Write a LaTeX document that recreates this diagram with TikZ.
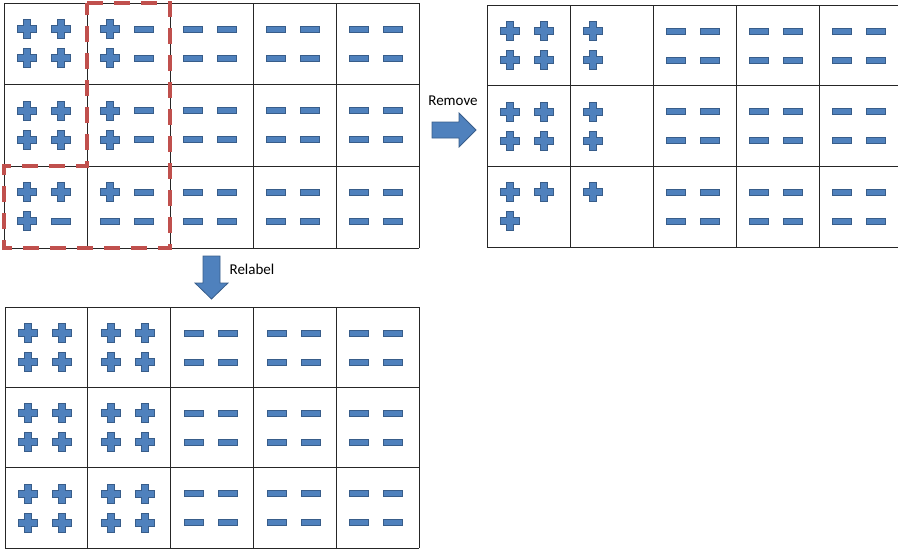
\documentclass[tikz,border=0pt]{standalone}
\usepackage{fontspec}
\setmainfont{Carlito}
\definecolor{symblue}{HTML}{4F81BD}
\definecolor{symedge}{HTML}{385D8A}
\definecolor{cutred}{HTML}{C0504D}
% marks: plus, minus, empty
\newcommand{\Pm}[2]{\draw[sym,shift={(#1,#2)}] (-3.5,-9.5) -- (3.5,-9.5) -- (3.5,-3.5) -- (9.5,-3.5) -- (9.5,3.5) -- (3.5,3.5) -- (3.5,9.5) -- (-3.5,9.5) -- (-3.5,3.5) -- (-9.5,3.5) -- (-9.5,-3.5) -- (-3.5,-3.5) -- cycle;}
\newcommand{\Mm}[2]{\draw[sym,shift={(#1,#2)}] (-9.5,-3) rectangle (9.5,3);}
\newcommand{\Nm}[2]{}
% cell corner, then four marks
\newcommand{\cellmarks}[6]{#3{#1+23}{#2+26}#4{#1+57}{#2+26}#5{#1+23}{#2+55}#6{#1+57}{#2+55}}
% corner, cell width, cell height
\newcommand{\cellgrid}[4]{%
  \foreach \i in {0,...,5} \draw[gridline] ({#1+\i*#3},#2) -- ++(0,{3*#4});
  \foreach \j in {0,...,3} \draw[gridline] (#1,{#2+\j*#4}) -- ++({5*#3},0);}
\begin{document}
\begin{tikzpicture}[x=1pt, y=-1pt,
  gridline/.style={draw=black!85, line width=0.9pt},
  sym/.style={fill=symblue, draw=symedge, line width=0.8pt},
  cutline/.style={draw=cutred, line width=3.6pt, dash pattern=on 16pt off 11pt},
  blockarrow/.style={fill=symblue, draw=symedge, line width=0.8pt},
  lbl/.style={font=\fontsize{15}{18}\selectfont}]
  \useasboundingbox (0,0) rectangle (898,552);

  % before
  \cellgrid{4}{3}{83}{81.67}
  \foreach \r in {0,1} {
    \cellmarks{4}{3+\r*81.67}\Pm\Pm\Pm\Pm
    \cellmarks{87}{3+\r*81.67}\Pm\Mm\Pm\Mm}
  \cellmarks{4}{166.3}\Pm\Pm\Pm\Mm
  \cellmarks{87}{166.3}\Pm\Mm\Mm\Mm
  \foreach \r in {0,1,2} \foreach \c in {2,3,4}
    {\cellmarks{4+\c*83}{3+\r*81.67}\Mm\Mm\Mm\Mm}
  \draw[cutline] (87,3) -- (170,3) -- (170,248) -- (4,248) -- (4,166) -- (87,166) -- cycle;

  % remove
  \draw[blockarrow] (432,122) -- (459,122) -- (459,113) -- (476,130) -- (459,147) -- (459,138) -- (432,138) -- cycle;
  \node[lbl] (remove) at (453,101) {Remove};
  \cellgrid{487}{5}{83}{80.67}
  \foreach \r in {0,1} {
    \cellmarks{487}{5+\r*80.67}\Pm\Pm\Pm\Pm
    \cellmarks{570}{5+\r*80.67}\Pm\Nm\Pm\Nm}
  \cellmarks{487}{166.3}\Pm\Pm\Pm\Nm
  \cellmarks{570}{166.3}\Pm\Nm\Nm\Nm
  \foreach \r in {0,1,2} \foreach \c in {2,3,4}
    {\cellmarks{487+\c*83}{5+\r*80.67}\Mm\Mm\Mm\Mm}

  % relabel
  \draw[blockarrow] (203,256) -- (220,256) -- (220,283) -- (228,283) -- (211.5,299) -- (195,283) -- (203,283) -- cycle;
  \node[lbl] (relabel) at (252,269) {Relabel};
  \cellgrid{5}{307}{82.8}{80.33}
  \foreach \r in {0,1,2} {
    \foreach \c in {0,1}
      {\cellmarks{5+\c*82.8}{307+\r*80.33}\Pm\Pm\Pm\Pm}
    \foreach \c in {2,3,4}
      {\cellmarks{5+\c*82.8}{307+\r*80.33}\Mm\Mm\Mm\Mm}}
\end{tikzpicture}
\end{document}
